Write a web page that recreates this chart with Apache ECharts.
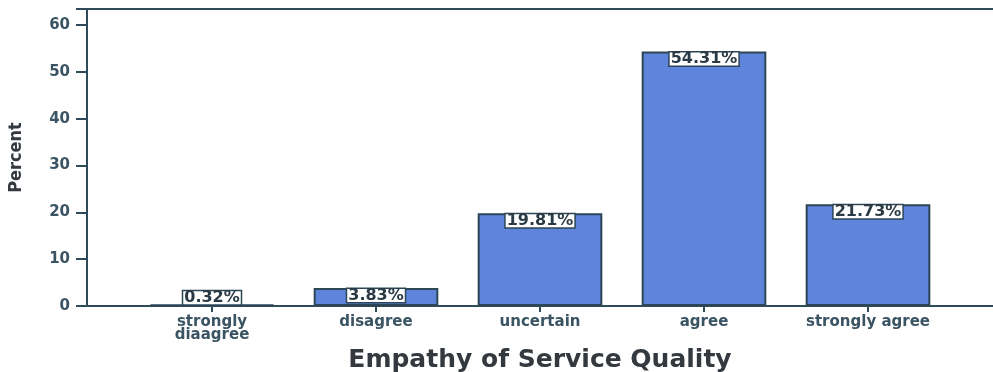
<!DOCTYPE html>
<html><head><meta charset="utf-8">
<script src="https://cdn.jsdelivr.net/npm/echarts@6/dist/echarts.min.js"></script>
<style>html,body{margin:0;padding:0;background:#fff}#c{width:993px;height:372px}</style>
</head><body><div id="c"></div>
<script>
var categories = ['strongly\ndiaagree', 'disagree', 'uncertain', 'agree', 'strongly agree'];
var percents = [0.32, 3.83, 19.81, 54.31, 21.73];
var yTicks = [0, 10, 20, 30, 40, 50, 60];

var axisColor = '#2e4b5a';
var textColor = '#3b5463';
var chart = echarts.init(document.getElementById('c'));
var yMax = 63.4;
chart.setOption({
  animation: false,
  grid: [
    {left: 87, right: -3, top: 9, bottom: 66, show: true, borderColor: axisColor, borderWidth: 2, backgroundColor: 'transparent', outerBoundsMode: 'none', containLabel: false},
    {left: 130, width: 820, top: 9, bottom: 66, outerBoundsMode: 'none', containLabel: false}
  ],
  xAxis: [
    {gridIndex: 0, type: 'value', min: 0, max: 1, show: true, axisLine: {show: true, lineStyle: {color: axisColor, width: 2}}, axisTick: {show: false}, axisLabel: {show: false}, splitLine: {show: false}},
    {gridIndex: 1, type: 'category', data: categories,
     axisLine: {show: false}, axisTick: {show: true, alignWithLabel: true, length: 6, lineStyle: {color: axisColor, width: 2}},
     axisLabel: {color: textColor, fontFamily: 'DejaVu Sans', fontSize: 15, fontWeight: 'bold', lineHeight: 13, margin: 10, interval: 0},
     name: 'Empathy of Service Quality', nameLocation: 'middle', nameGap: 37,
     nameTextStyle: {color: '#33393e', fontFamily: 'DejaVu Sans', fontSize: 25, fontWeight: 'bold'}}
  ],
  yAxis: [
    {gridIndex: 0, type: 'value', min: 0, max: yMax, interval: 10,
     axisLine: {show: true, lineStyle: {color: axisColor, width: 2}},
     axisTick: {show: true, length: 11, lineStyle: {color: axisColor, width: 2}},
     axisLabel: {color: textColor, fontFamily: 'DejaVu Sans', fontSize: 15, fontWeight: 'bold', margin: 17,
       formatter: function (v) { return yTicks.indexOf(v) >= 0 ? String(v) : ''; }},
     splitLine: {show: false},
     name: 'Percent', nameLocation: 'middle', nameGap: 62, nameRotate: 90,
     nameTextStyle: {color: '#33393e', fontFamily: 'DejaVu Sans Condensed', fontSize: 18, fontWeight: 'bold'}},
    {gridIndex: 1, type: 'value', min: 0, max: yMax, show: false}
  ],
  series: [{
    type: 'bar', xAxisIndex: 1, yAxisIndex: 1, barCategoryGap: '24%',
    data: percents.map(function (v, i) {
      var d = {value: v};
      if (i === 0) d.label = {position: 'top', distance: 0};
      return d;
    }),
    itemStyle: {color: '#5f84dc', borderColor: '#2c4656', borderWidth: 2},
    label: {show: true, position: 'insideTop', distance: 1,
      formatter: function (p) { return p.value.toFixed(2) + '%'; },
      color: '#2a3a44', fontFamily: 'DejaVu Sans', fontSize: 16, fontWeight: 'bold', lineHeight: 13,
      backgroundColor: '#ffffff', borderColor: '#2c4656', borderWidth: 1.5, padding: [0, 1, 0, 1]}
  }]
});
</script></body></html>
